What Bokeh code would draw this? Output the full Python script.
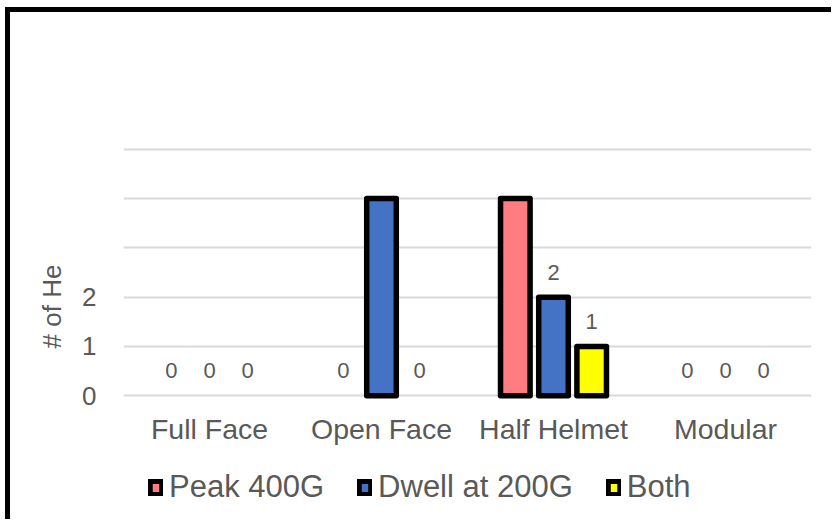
from bokeh.plotting import figure
from bokeh.models import (ColumnDataSource, FactorRange, FixedTicker, Legend, LegendItem,
                          CDSView, BooleanFilter)
from bokeh.transform import dodge
from bokeh.core.properties import value
from bokeh.embed import file_html
from bokeh.resources import INLINE

categories = ["Full Face", "Open Face", "Half Helmet", "Modular"]
peak_400g = [0, 0, 4, 0]
dwell_200g = [0, 4, 2, 0]
both = [0, 0, 1, 0]
series_names = ["Peak 400G", "Dwell at 200G", "Both"]
y_ticks = [0, 1, 2, 3, 4, 5]
y_tick_labels = {0: "0", 1: "1", 2: "2", 3: "", 4: "", 5: ""}
y_title = "# of He"

FONT = "Liberation Sans"
GREY = "#595959"
colors = ["#FF7C80", "#4472C4", "#FFFF00"]
offsets = [-0.222, 0.0, 0.222]


def lab(vals):
    return [str(v) if v < 4 else "" for v in vals]


src = ColumnDataSource(dict(
    cat=categories,
    zero=[0] * len(categories),
    peak=peak_400g, dwell=dwell_200g, both=both,
    peak_l=lab(peak_400g), dwell_l=lab(dwell_200g), both_l=lab(both),
))

p = figure(x_range=FactorRange(*categories), y_range=(-2.53, 6.152),
           width=826, height=512, output_backend="svg", toolbar_location=None,
           min_border_left=113, min_border_right=25, min_border_top=80,
           min_border_bottom=4)
p.outline_line_color = None
p.background_fill_color = "white"
p.border_fill_color = "white"
p.styles = {"border-top": "5px solid black", "border-left": "5px solid black",
            "margin-left": "5px", "margin-top": "7px"}

fields = ["peak", "dwell", "both"]
series_vals = [peak_400g, dwell_200g, both]
renderers = []
for f, vals, c, off in zip(fields, series_vals, colors, offsets):
    view = CDSView(filter=BooleanFilter([v > 0 for v in vals]))
    r = p.vbar(x=dodge("cat", off, range=p.x_range), top=f, bottom=0, width=0.172,
               source=src, view=view, fill_color=c, line_color="black",
               line_width=5.5, line_join="round")
    renderers.append(r)
    p.text(x=dodge("cat", off, range=p.x_range), y=f, text=f + "_l", source=src,
           text_font=value(FONT), text_font_size="22px", text_color=GREY,
           text_align="center", text_baseline="middle", y_offset=-25)

# category labels under the baseline
p.text(x="cat", y="zero", text="cat", source=src, text_font=value(FONT),
       text_font_size="28.5px", text_color=GREY, text_align="center",
       text_baseline="middle", y_offset=33)

p.xaxis.visible = False
p.xgrid.grid_line_color = None
p.ygrid.grid_line_color = "#D9D9D9"
p.ygrid.grid_line_width = 2
p.yaxis.ticker = FixedTicker(ticks=y_ticks)
p.yaxis.major_label_overrides = y_tick_labels
ax = p.yaxis[0]
ax.axis_line_color = None
ax.major_tick_line_color = None
ax.minor_tick_line_color = None
ax.major_label_text_font = FONT
ax.major_label_text_color = GREY
ax.major_label_text_font_size = "26px"
ax.major_label_standoff = 21
ax.axis_label = y_title
ax.axis_label_text_font = FONT
ax.axis_label_text_font_size = "26px"
ax.axis_label_text_font_style = "normal"
ax.axis_label_text_color = GREY
ax.axis_label_standoff = 12

legend = Legend(items=[LegendItem(label=n, renderers=[r]) for n, r in zip(series_names, renderers)],
                orientation="horizontal", location=(25, 15))
legend.label_text_font = FONT
legend.label_text_font_size = "31px"
legend.label_text_color = GREY
legend.glyph_width = 15
legend.glyph_height = 17
legend.label_height = 34
legend.label_standoff = 6
legend.spacing = 33
legend.padding = 0
legend.margin = 0
legend.border_line_color = None
legend.background_fill_alpha = 0
p.add_layout(legend, "center")

open("out.html", "w").write(file_html(p, INLINE))
